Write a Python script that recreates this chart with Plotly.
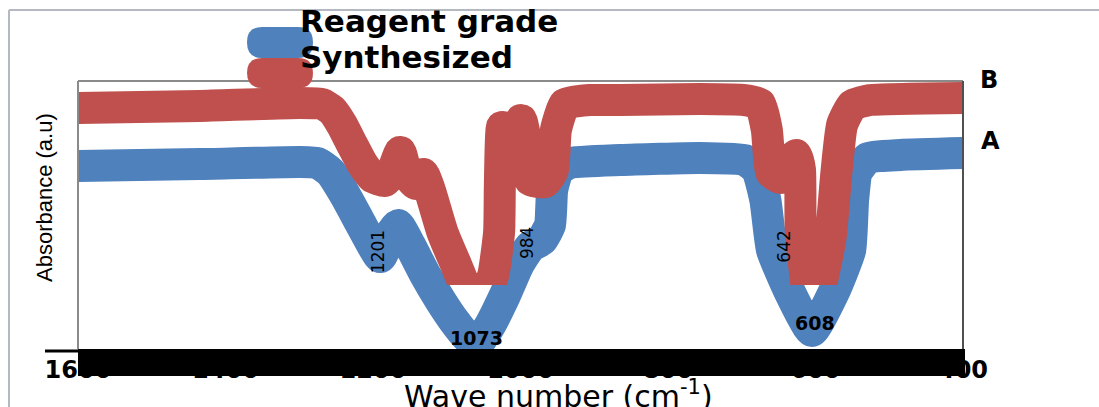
import plotly.graph_objects as go

# ---------------- data ----------------
series_names = ["Reagent grade", "Synthesized"]
curve_tags = ["A", "B"]

# Reagent grade (A)
wavenumber_A = [1600, 1435, 1299, 1275, 1258, 1238, 1218, 1201, 1190, 1174, 1166, 1150,
                1129, 1109, 1089, 1071, 1059, 1041, 1021, 1003, 987, 971, 960, 957, 949,
                933, 865, 757, 696, 679, 668, 659, 635, 605, 575, 553, 549, 544, 529, 485, 400]
absorbance_A = [0.683, 0.690, 0.698, 0.694, 0.660, 0.575, 0.474, 0.388, 0.343, 0.437, 0.463, 0.388,
                0.276, 0.183, 0.101, 0.041, 0.018, 0.090, 0.201, 0.313, 0.381, 0.407, 0.463, 0.593, 0.668,
                0.694, 0.705, 0.713, 0.705, 0.668, 0.556, 0.369, 0.213, 0.067, 0.213, 0.369, 0.556, 0.660,
                0.713, 0.724, 0.731]

# Synthesized (B)
wavenumber_B = [1600, 1435, 1299, 1269, 1256, 1242, 1228, 1215, 1201, 1184, 1174, 1163, 1155,
                1142, 1132, 1123, 1106, 1089, 1058, 1037, 1029, 1028, 1025, 1012, 999, 991,
                987, 967, 956, 952, 940, 906, 865, 757, 696, 675, 666, 660, 647, 636, 626, 621,
                620, 605, 580, 572, 564, 550, 526, 400]
absorbance_B = [0.899, 0.907, 0.918, 0.914, 0.892, 0.836, 0.761, 0.694, 0.642, 0.627, 0.660, 0.735, 0.660,
                0.616, 0.653, 0.593, 0.437, 0.325, 0.138, 0.276, 0.437, 0.612, 0.828, 0.743, 0.854, 0.743,
                0.631, 0.623, 0.668, 0.817, 0.914, 0.929, 0.929, 0.933, 0.929, 0.914, 0.817, 0.660, 0.638,
                0.687, 0.724, 0.668, 0.444, 0.108, 0.407, 0.649, 0.836, 0.910, 0.929, 0.937]

peak_labels = ["1201", "984", "642", "1073", "608"]
peak_x = [1193, 991, 643, 1059, 601]
peak_y = [0.362, 0.396, 0.381, 0.041, 0.097]
peak_angle = [-90, -90, -90, 0, 0]

x_ticks = [1600, 1400, 1200, 1000, 800, 600, 400]

# ---------------- styling helpers ----------------
W, H = 1099, 407
L, R, T, B = 78, 963, 81, 349
BLUE = "#4F81BD"
RED = "#C0504D"
CLIP = (B - 285) / (B - T)   # red series is cut off at this level


def px(x):
    return (x - L) / (R - L)


def py(y):
    return (B - y) / (B - T)


def rrect(x0, y0, x1, y1, r):
    pts = [("M", x0 + r, y0), ("L", x1 - r, y0), ("Q", x1, y0, x1, y0 + r),
           ("L", x1, y1 - r), ("Q", x1, y1, x1 - r, y1), ("L", x0 + r, y1),
           ("Q", x0, y1, x0, y1 - r), ("L", x0, y0 + r), ("Q", x0, y0, x0 + r, y0)]
    out = []
    for p in pts:
        coords = p[1:]
        s = [f"{px(coords[i]):.4f},{py(coords[i + 1]):.4f}" for i in range(0, len(coords), 2)]
        out.append(p[0] + " " + " ".join(s))
    return " ".join(out) + " Z"


def ptext(x, y, text, size, weight="normal", family="DejaVu Sans", angle=0, xanchor="center"):
    return dict(x=px(x), y=py(y), xref="paper", yref="paper", text=text, showarrow=False,
                xanchor=xanchor, yanchor="middle", textangle=angle,
                font=dict(family=family, size=size, color="black", weight=weight))


fig = go.Figure()
fig.add_trace(go.Scatter(x=wavenumber_A, y=absorbance_A, mode="lines", name=series_names[0],
                         line=dict(color=BLUE, width=32, shape="spline", smoothing=0.45),
                         xaxis="x", yaxis="y", showlegend=False, hoverinfo="skip"))
fig.add_trace(go.Scatter(x=wavenumber_B, y=absorbance_B, mode="lines", name=series_names[1],
                         line=dict(color=RED, width=32, shape="spline", smoothing=0.45),
                         xaxis="x2", yaxis="y2", showlegend=False, hoverinfo="skip"))

shapes = [
    # outer chart frame
    dict(type="line", xref="paper", yref="paper", x0=px(9), x1=px(1099), y0=py(10), y1=py(10),
         line=dict(color="#b4b8c0", width=2), layer="above"),
    dict(type="line", xref="paper", yref="paper", x0=px(9), x1=px(9), y0=py(10), y1=py(407),
         line=dict(color="#b4b8c0", width=2), layer="above"),
    # plot border
    dict(type="line", xref="paper", yref="paper", x0=0, x1=1, y0=1, y1=1,
         line=dict(color="#8a8a8a", width=2), layer="above"),
    dict(type="line", xref="paper", yref="paper", x0=0, x1=0, y0=0, y1=1,
         line=dict(color="#8a8a8a", width=2), layer="above"),
    dict(type="line", xref="paper", yref="paper", x0=1, x1=1, y0=0, y1=1,
         line=dict(color="#505050", width=2), layer="above"),
    # heavy x axis bar
    dict(type="rect", xref="paper", yref="paper", x0=px(78), x1=px(965), y0=py(349), y1=py(376),
         fillcolor="black", line=dict(width=0), layer="above"),
    dict(type="line", xref="paper", yref="paper", x0=px(45), x1=px(78), y0=py(351), y1=py(351),
         line=dict(color="black", width=3), layer="above"),
    # legend markers
    dict(type="path", xref="paper", yref="paper", path=rrect(247, 27, 313, 58, 15),
         fillcolor=BLUE, line=dict(width=0), layer="above"),
    dict(type="path", xref="paper", yref="paper", path=rrect(247, 58, 313, 88, 15),
         fillcolor=RED, line=dict(width=0), layer="above"),
]

annotations = []
for lab, xv, yv, ang in zip(peak_labels, peak_x, peak_y, peak_angle):
    annotations.append(dict(x=xv, y=yv, xref="x", yref="y", text=lab, showarrow=False,
                            textangle=ang, xanchor="center", yanchor="middle",
                            font=dict(family="DejaVu Sans", size=19 if ang == 0 else 17,
                                      color="black", weight="bold" if ang == 0 else "normal")))

annotations += [
    ptext(298, 21, series_names[0], 31, "bold", xanchor="left"),
    ptext(298, 57, series_names[1], 31, "bold", xanchor="left"),
    ptext(989, 80, curve_tags[1], 24, "bold"),
    ptext(990, 141, curve_tags[0], 24, "bold"),
    ptext(44, 198, "Absorbance (a.u)", 22, family="Liberation Sans", angle=-90),
    ptext(558, 394, "Wave number (cm<sup>-1</sup>)", 30),
]

fig.update_layout(
    width=W, height=H,
    margin=dict(l=L, r=W - R, t=T, b=H - B, pad=0),
    paper_bgcolor="white", plot_bgcolor="rgba(0,0,0,0)",
    showlegend=False,
    xaxis=dict(domain=[0, 1], range=[1600, 400], tickvals=x_ticks,
               ticktext=[str(v) for v in x_ticks], showgrid=False, zeroline=False,
               showline=False, ticks="", ticklabelstandoff=4,
               tickfont=dict(family="DejaVu Sans", size=24, color="black", weight="bold")),
    yaxis=dict(domain=[0, 1], range=[0, 1], showgrid=False, zeroline=False,
               showline=False, ticks="", showticklabels=False),
    xaxis2=dict(domain=[0, 1], range=[1600, 400], anchor="y2", visible=False),
    yaxis2=dict(domain=[CLIP, 1], range=[CLIP, 1], anchor="x2", visible=False),
    shapes=shapes,
    annotations=annotations,
)

fig.write_html("out.html", config={"displayModeBar": False},
               post_script="document.body.style.margin='0';document.body.style.overflow='hidden';")
